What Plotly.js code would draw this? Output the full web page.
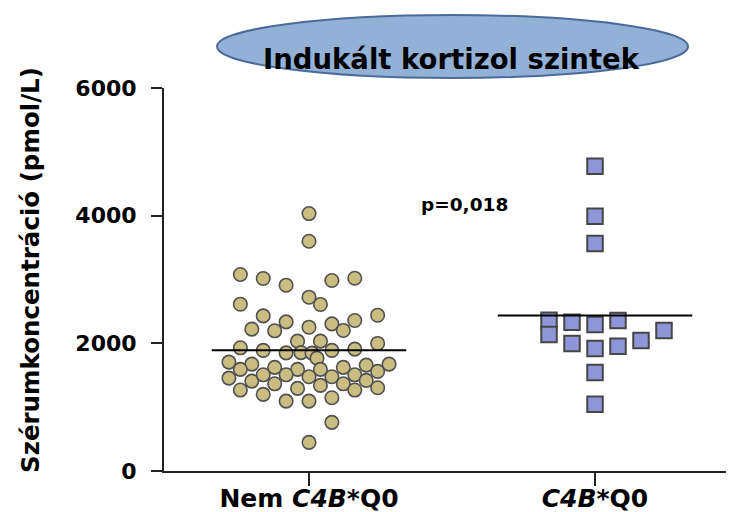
<!DOCTYPE html>
<html><head><meta charset="utf-8">
<script src="https://cdn.plot.ly/plotly-3.0.1.min.js"></script>
<style>html,body{margin:0;padding:0;background:#fff}#chart{width:732px;height:512px}</style>
</head><body><div id="chart"></div>
<script>
// ---- data ----
const categories = ['Nem <i>C4B</i>*Q0', '<i>C4B</i>*Q0'];
const nemValues = [4033,3599,3078,3016,2911,2984,3020,2723,2609,2613,2430,2336,2222,2196,2253,2305,2202,2358,2441,2034,2034,1930,1889,1851,1854,1847,1768,1889,1909,1998,1706,1674,1623,1592,1592,1592,1623,1659,1674,1455,1408,1507,1507,1476,1476,1507,1560,1366,1294,1341,1366,1419,1268,1200,1268,1304,1095,1095,1147,762,449];
const nemSlots  = [0,0,-6,-4,-2,2,4,0,1,-6,-4,-2,-5,-3,0,2,3,4,6,-1,1,-6,-4,-2,-0.7,0.26,0.7,2,4,6,-7,-5,-3,-6,-1,1,3,5,7,-7,-5,-4,-2,0,2,4,6,-3,-1,1,3,5,-6,-4,4,6,-2,0,2,2,0];
const q0Values = [4773,3990,3563,2363,2139,2332,1998,2296,1920,2358,1956,2045,2202,1545,1044];
const q0Slots  = [0,0,0,-2,-2,-1,-1,0,0,1,1,2,3,0,0];
const yTicks = [0,2000,4000,6000];
const pValueText = 'p=0,018';
const titleText = 'Indukált kortizol szintek';
const yTitleText = 'Szérumkoncentráció (pmol/L)';

// ---- styling / layout ----
const FONT = 'DejaVu Sans, Verdana, sans-serif';
const circleSlot = 0.04, squareSlot = 0.0804, halfLine = 0.34;
const mean = a => a.reduce((s, v) => s + v, 0) / a.length;
const nemMean = mean(nemValues), q0Mean = mean(q0Values);

const traces = [
  {type:'scatter', mode:'markers', x: nemSlots.map(s => 0 + s*circleSlot), y: nemValues,
   marker:{symbol:'circle', size:13.5, color:'#C9BD82', line:{color:'#505050', width:1.6}}, hoverinfo:'y'},
  {type:'scatter', mode:'markers', x: q0Slots.map(s => 1 + s*squareSlot), y: q0Values,
   marker:{symbol:'square', size:15.5, color:'#8F95D6', line:{color:'#464646', width:2}}, hoverinfo:'y'},
  {type:'scatter', mode:'lines', x:[0-halfLine, 0+halfLine], y:[nemMean, nemMean], line:{color:'#000', width:2}, hoverinfo:'skip'},
  {type:'scatter', mode:'lines', x:[1-halfLine, 1+halfLine], y:[q0Mean, q0Mean], line:{color:'#000', width:2}, hoverinfo:'skip'}
];

const layout = {
  width:732, height:512, showlegend:false,
  paper_bgcolor:'#fff', plot_bgcolor:'#fff',
  margin:{l:164, r:6, t:88, b:41},
  font:{family:FONT, color:'#000'},
  title:{text:titleText, font:{family:FONT, size:27.5, weight:700, color:'#000'},
         xref:'container', yref:'container', x:451/732, y:1-59/512, xanchor:'center', yanchor:'middle'},
  xaxis:{range:[-0.507, 1.458], tickvals:[0,1], ticktext:categories, showgrid:false, zeroline:false,
         showline:true, linewidth:2, linecolor:'#222', ticks:'outside', ticklen:13, tickwidth:2, tickcolor:'#222',
         ticklabelstandoff:-9,
         tickfont:{family:FONT, size:25, weight:700, color:'#000'}, fixedrange:true},
  yaxis:{range:[0,6000], tickvals:yTicks, ticktext:yTicks.map(String), showgrid:false, zeroline:false,
         showline:true, linewidth:2, linecolor:'#222', ticks:'outside', ticklen:11, tickwidth:2, tickcolor:'#222',
         ticklabelstandoff:10,
         tickfont:{family:FONT, size:22, weight:700, color:'#000'}, fixedrange:true},
  shapes:[{type:'circle', xref:'paper', yref:'paper', layer:'below',
           x0:(217-164)/562, x1:(688-164)/562, y0:(471-78)/383, y1:(471-15)/383,
           fillcolor:'#93B1D7', line:{color:'#4A6A9A', width:2}}],
  annotations:[
    {text:pValueText, xref:'x', yref:'y', x:0.542, y:4178, showarrow:false,
     xanchor:'center', yanchor:'middle', font:{family:FONT, size:18.5, weight:700, color:'#000'}},
    {text:yTitleText, xref:'paper', yref:'paper', x:(30-164)/562, y:(471-270)/383, textangle:-90, showarrow:false,
     xanchor:'center', yanchor:'middle', font:{family:FONT, size:24.5, weight:700, color:'#000'}}
  ]
};
Plotly.newPlot('chart', traces, layout, {displayModeBar:false, staticPlot:true});
</script></body></html>
